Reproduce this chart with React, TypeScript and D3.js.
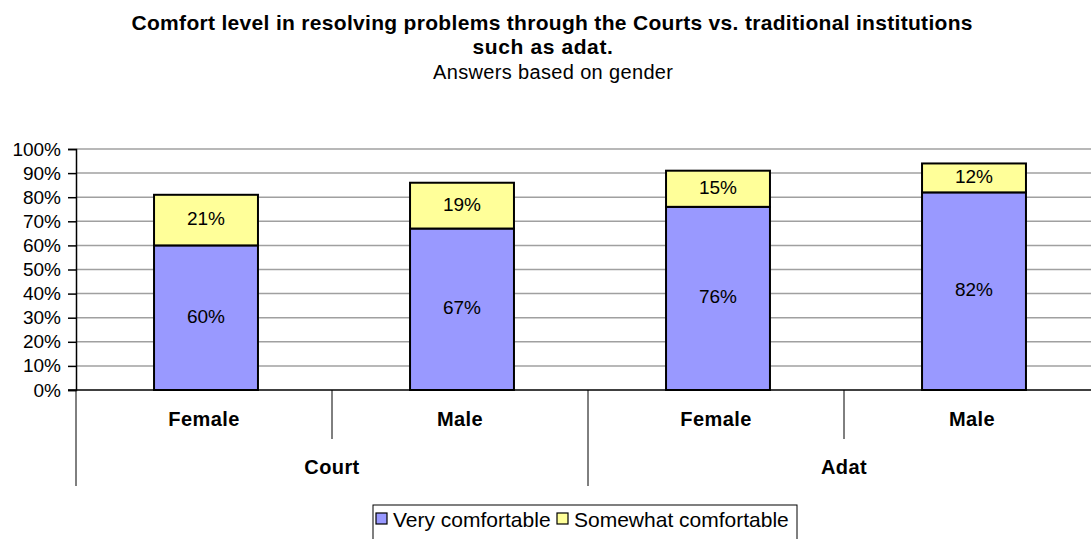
import React, { useEffect, useRef } from 'react';
import * as d3 from 'd3';

const groups = ['Court', 'Court', 'Adat', 'Adat'];
const genders = ['Female', 'Male', 'Female', 'Male'];
const veryComfortable = [60, 67, 76, 82];
const somewhatComfortable = [21, 19, 15, 12];
const yTicks = [0, 10, 20, 30, 40, 50, 60, 70, 80, 90, 100];

const W = 1091;
const H = 539;
const FONT = 'Liberation Sans, Arial, sans-serif';

const App = () => {
  const ref = useRef<SVGSVGElement>(null);

  useEffect(() => {
    const svg = d3.select(ref.current);
    svg.selectAll('*').remove();

    const left = 76;
    const top = 149;
    const bottom = 390;

    const x = d3.scaleBand<number>()
      .domain(d3.range(genders.length))
      .range([left, left + 1024]);
    const y = d3.scaleLinear().domain([0, 100]).range([bottom, top]);
    const barW = x.bandwidth() * 0.406;

    // title (excel spreads the letters a bit, so stretch line 1 to the measured width)
    const title = svg.append('g').attr('font-family', FONT).attr('text-anchor', 'middle');
    title.append('text').attr('x', 552).attr('y', 30)
      .attr('font-size', 21).attr('font-weight', 'bold')
      .attr('textLength', 841).attr('lengthAdjust', 'spacing')
      .text('Comfort level in resolving problems through the Courts vs. traditional institutions');
    title.append('text').attr('x', 543).attr('y', 54)
      .attr('font-size', 21).attr('font-weight', 'bold')
      .attr('letter-spacing', 0.6)
      .text('such as adat.');
    title.append('text').attr('x', 553).attr('y', 79)
      .attr('font-size', 20)
      .attr('textLength', 240).attr('lengthAdjust', 'spacing')
      .text('Answers based on gender');

    // grid
    svg.append('g').selectAll('line')
      .data(yTicks.filter(t => t > 0))
      .enter().append('line')
      .attr('x1', left).attr('x2', W)
      .attr('y1', d => y(d)).attr('y2', d => y(d))
      .attr('stroke', '#a0a0a0').attr('stroke-width', 1.5);

    // y axis
    const yAxis = svg.append('g')
      .attr('transform', `translate(${left},0)`)
      .call(d3.axisLeft(y).tickValues(yTicks).tickSize(8).tickPadding(7).tickFormat(d => `${d}%`));
    yAxis.select('.domain').attr('stroke', '#000').attr('stroke-width', 1.5);
    yAxis.selectAll('.tick line').attr('stroke', '#000').attr('stroke-width', 1.5);
    yAxis.selectAll('.tick text')
      .attr('font-family', FONT).attr('font-size', 19).attr('fill', '#000');

    // bars
    const bars = svg.append('g');
    const idx = d3.range(genders.length);
    const cx = (i: number) => (x(i) as number) + x.bandwidth() / 2 + 2;

    bars.selectAll('rect.very')
      .data(idx).enter().append('rect')
      .attr('class', 'very')
      .attr('x', i => cx(i) - barW / 2)
      .attr('width', barW)
      .attr('y', i => y(veryComfortable[i]))
      .attr('height', i => y(0) - y(veryComfortable[i]))
      .attr('fill', '#9999ff').attr('stroke', '#000').attr('stroke-width', 2);

    bars.selectAll('rect.some')
      .data(idx).enter().append('rect')
      .attr('class', 'some')
      .attr('x', i => cx(i) - barW / 2)
      .attr('width', barW)
      .attr('y', i => y(veryComfortable[i] + somewhatComfortable[i]))
      .attr('height', i => y(veryComfortable[i]) - y(veryComfortable[i] + somewhatComfortable[i]))
      .attr('fill', '#ffff99').attr('stroke', '#000').attr('stroke-width', 2);

    const labels = svg.append('g').attr('font-family', FONT).attr('font-size', 19)
      .attr('text-anchor', 'middle');
    labels.selectAll('text.v')
      .data(idx).enter().append('text')
      .attr('x', i => cx(i))
      .attr('y', i => y(veryComfortable[i] / 2) + 5)
      .text(i => `${veryComfortable[i]}%`);
    labels.selectAll('text.s')
      .data(idx).enter().append('text')
      .attr('x', i => cx(i))
      .attr('y', i => y(veryComfortable[i] + somewhatComfortable[i] / 2) + 5)
      .text(i => `${somewhatComfortable[i]}%`);

    // x axis
    svg.append('line')
      .attr('x1', left - 8).attr('x2', W)
      .attr('y1', bottom).attr('y2', bottom)
      .attr('stroke', '#000').attr('stroke-width', 1.5);

    const cat = svg.append('g');
    idx.forEach(i => {
      const bx = x(i) as number;
      const isGroupEdge = i === 0 || groups[i] !== groups[i - 1];
      cat.append('line')
        .attr('x1', bx).attr('x2', bx)
        .attr('y1', bottom).attr('y2', isGroupEdge ? 486 : 439)
        .attr('stroke', '#000').attr('stroke-width', 1);
    });

    cat.selectAll('text.g')
      .data(idx).enter().append('text')
      .attr('x', i => (x(i) as number) + x.bandwidth() / 2)
      .attr('y', 426)
      .attr('text-anchor', 'middle')
      .attr('font-family', FONT).attr('font-size', 20).attr('font-weight', 'bold')
      .attr('letter-spacing', 0.4)
      .text(i => genders[i]);

    const groupNames = Array.from(new Set(groups));
    cat.selectAll('text.grp')
      .data(groupNames).enter().append('text')
      .attr('x', g => {
        const ids = idx.filter(i => groups[i] === g);
        return ((x(ids[0]) as number) + (x(ids[ids.length - 1]) as number) + x.bandwidth()) / 2;
      })
      .attr('y', 474)
      .attr('text-anchor', 'middle')
      .attr('font-family', FONT).attr('font-size', 20).attr('font-weight', 'bold')
      .attr('letter-spacing', 0.4)
      .text(g => g);

    // legend
    const legend = svg.append('g').attr('font-family', FONT).attr('font-size', 21);
    legend.append('rect')
      .attr('x', 373).attr('y', 505).attr('width', 424).attr('height', 45)
      .attr('fill', '#fff').attr('stroke', '#000').attr('stroke-width', 1);
    const items = [
      { name: 'Very comfortable', color: '#9999ff', x: 376 },
      { name: 'Somewhat comfortable', color: '#ffff99', x: 557 },
    ];
    items.forEach(it => {
      legend.append('rect')
        .attr('x', it.x).attr('y', 513).attr('width', 11).attr('height', 11)
        .attr('fill', it.color).attr('stroke', '#000').attr('stroke-width', 1.2);
      legend.append('text').attr('x', it.x + 17).attr('y', 527).text(it.name);
    });
  }, []);

  return (
    <svg ref={ref} width={W} height={H} style={{ position: 'absolute', left: 0, top: 0, background: '#fff' }} />
  );
};

export default App;
